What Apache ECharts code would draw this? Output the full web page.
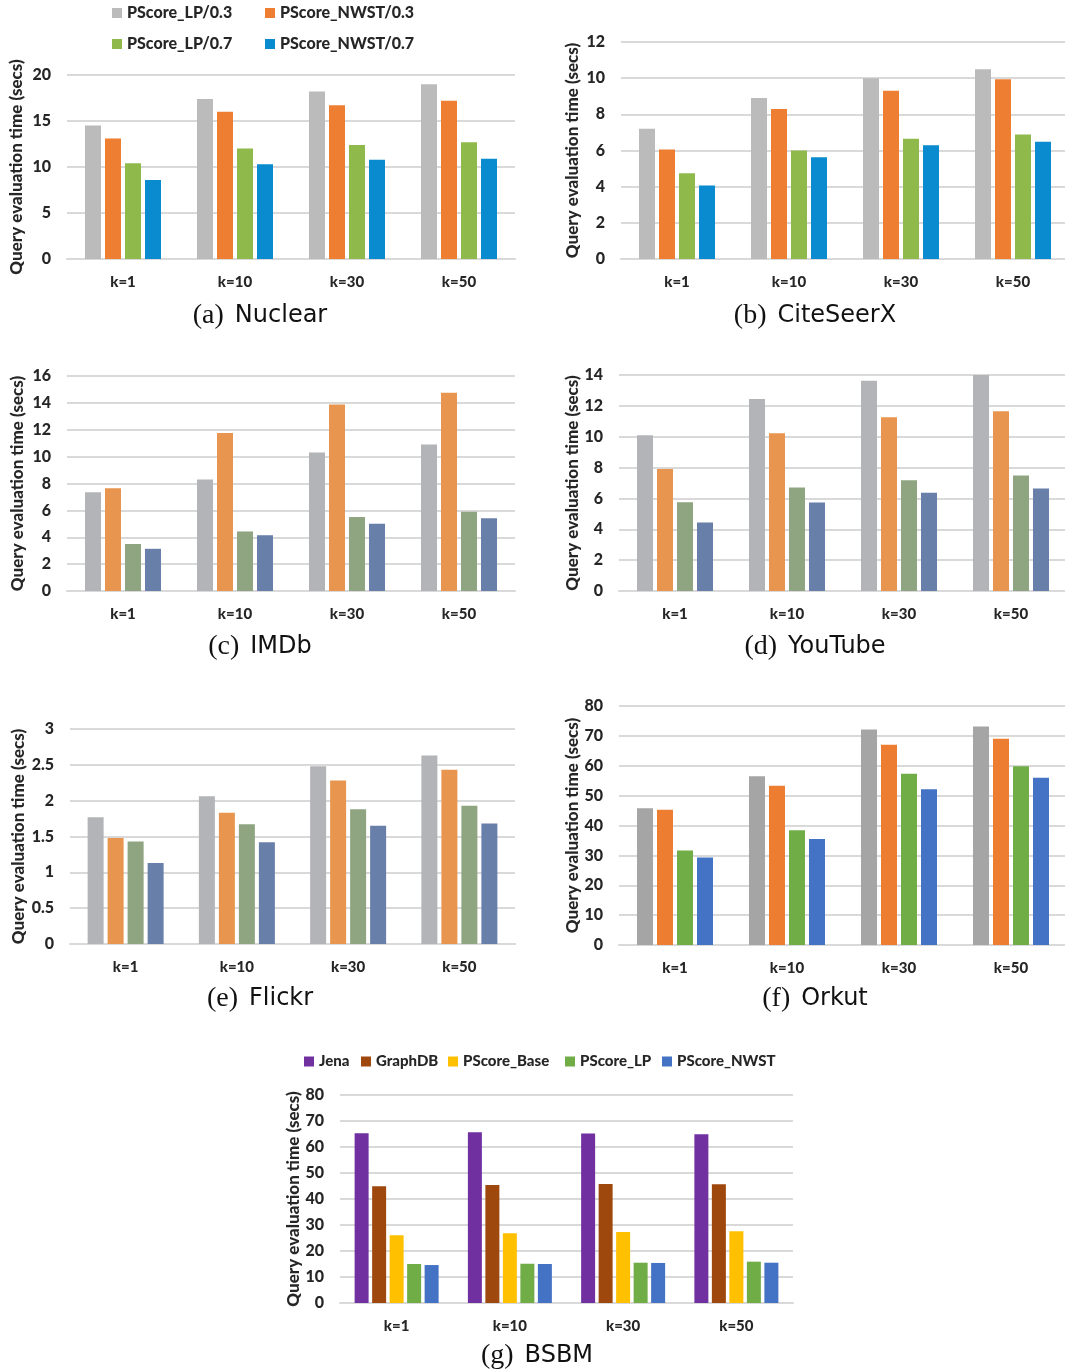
<!DOCTYPE html>
<html><head><meta charset="utf-8">
<script src="https://cdn.jsdelivr.net/npm/echarts@6/dist/echarts.min.js"></script>
<style>html,body{margin:0;padding:0;background:#fff}#c{width:1065px;height:1372px}</style>
</head><body><div id="c"></div>
<script>
const categories = ['k=1', 'k=10', 'k=30', 'k=50'];
const namesPS = ['PScore_LP/0.3', 'PScore_NWST/0.3', 'PScore_LP/0.7', 'PScore_NWST/0.7'];
const namesBSBM = ['Jena', 'GraphDB', 'PScore_Base', 'PScore_LP', 'PScore_NWST'];
const yTitle = 'Query evaluation time (secs)';

// (a) Nuclear
const nuclearLP03 = [14.5, 17.4, 18.2, 19.0];
const nuclearNWST03 = [13.1, 16.0, 16.7, 17.2];
const nuclearLP07 = [10.4, 12.0, 12.4, 12.7];
const nuclearNWST07 = [8.6, 10.3, 10.8, 10.9];
const nuclearTicks = [0, 5, 10, 15, 20];
// (b) CiteSeerX
const citeLP03 = [7.2, 8.9, 10.0, 10.5];
const citeNWST03 = [6.05, 8.3, 9.3, 9.94];
const citeLP07 = [4.74, 6.0, 6.65, 6.88];
const citeNWST07 = [4.07, 5.62, 6.29, 6.49];
const citeTicks = [0, 2, 4, 6, 8, 10, 12];
// (c) IMDb
const imdbLP03 = [7.35, 8.3, 10.3, 10.9];
const imdbNWST03 = [7.65, 11.75, 13.87, 14.76];
const imdbLP07 = [3.5, 4.43, 5.5, 5.9];
const imdbNWST07 = [3.14, 4.15, 5.0, 5.42];
const imdbTicks = [0, 2, 4, 6, 8, 10, 12, 14, 16];
// (d) YouTube
const ytLP03 = [10.1, 12.45, 13.63, 14.0];
const ytNWST03 = [7.9, 10.22, 11.26, 11.65];
const ytLP07 = [5.75, 6.71, 7.18, 7.48];
const ytNWST07 = [4.44, 5.74, 6.36, 6.64];
const ytTicks = [0, 2, 4, 6, 8, 10, 12, 14];
// (e) Flickr
const flickrLP03 = [1.77, 2.06, 2.48, 2.63];
const flickrNWST03 = [1.48, 1.83, 2.28, 2.43];
const flickrLP07 = [1.43, 1.67, 1.88, 1.93];
const flickrNWST07 = [1.13, 1.42, 1.65, 1.68];
const flickrTicks = [0, 0.5, 1, 1.5, 2, 2.5, 3];
// (f) Orkut
const orkutLP03 = [45.8, 56.5, 72.1, 73.1];
const orkutNWST03 = [45.3, 53.3, 67.0, 69.0];
const orkutLP07 = [31.6, 38.4, 57.3, 59.8];
const orkutNWST07 = [29.3, 35.5, 52.1, 56.0];
const orkutTicks = [0, 10, 20, 30, 40, 50, 60, 70, 80];
// (g) BSBM
const bsbmJena = [65.3, 65.7, 65.2, 64.9];
const bsbmGraphDB = [44.9, 45.4, 45.8, 45.7];
const bsbmBase = [26.1, 26.8, 27.3, 27.6];
const bsbmLP = [15.0, 15.1, 15.5, 15.9];
const bsbmNWST = [14.6, 15.0, 15.4, 15.5];
const bsbmTicks = [0, 10, 20, 30, 40, 50, 60, 70, 80];

const colorsA = ['#BBBBBB', '#EE7E32', '#8FBA4B', '#0A8BCF'];
const colorsC = ['#B2B4B7', '#E8964F', '#8FA581', '#687FAA'];
const colorsF = ['#A5A5A5', '#ED7D31', '#70AD47', '#4472C4'];
const colorsG = ['#7030A0', '#9E480E', '#FFC000', '#70AD47', '#4472C4'];

const FONT = 'Lato';
const FW = 900;
const charts = [
  {grid:{left:67, top:75, width:448, height:184}, ticks:nuclearTicks, data:[nuclearLP03,nuclearNWST03,nuclearLP07,nuclearNWST07], names:namesPS, colors:colorsA, nameGap:42, title:['(a)','Nuclear'], tx:260, ty:316, bw:16},
  {grid:{left:621, top:42, width:448, height:217}, ticks:citeTicks, data:[citeLP03,citeNWST03,citeLP07,citeNWST07], names:namesPS, colors:colorsA, nameGap:40, title:['(b)','CiteSeerX'], tx:815, ty:316, bw:16},
  {grid:{left:67, top:376, width:448, height:215}, ticks:imdbTicks, data:[imdbLP03,imdbNWST03,imdbLP07,imdbNWST07], names:namesPS, colors:colorsC, nameGap:41, title:['(c)','IMDb'], tx:260, ty:647, bw:16},
  {grid:{left:619, top:375, width:448, height:216}, ticks:ytTicks, data:[ytLP03,ytNWST03,ytLP07,ytNWST07], names:namesPS, colors:colorsC, nameGap:38, title:['(d)','YouTube'], tx:815, ty:647, bw:16},
  {grid:{left:70, top:729, width:445, height:215}, ticks:flickrTicks, data:[flickrLP03,flickrNWST03,flickrLP07,flickrNWST07], names:namesPS, colors:colorsC, nameGap:43, title:['(e)','Flickr'], tx:260, ty:999, bw:16},
  {grid:{left:619, top:706, width:448, height:239}, ticks:orkutTicks, data:[orkutLP03,orkutNWST03,orkutLP07,orkutNWST07], names:namesPS, colors:colorsF, nameGap:38, title:['(f)','Orkut'], tx:815, ty:999, bw:16},
  {grid:{left:340, top:1095, width:453, height:208}, ticks:bsbmTicks, data:[bsbmJena,bsbmGraphDB,bsbmBase,bsbmLP,bsbmNWST], names:namesBSBM, colors:colorsG, nameGap:37, title:['(g)','BSBM'], tx:537, ty:1356, bw:14}
];

const grids = [], xAxes = [], yAxes = [], series = [], graphics = [];
charts.forEach((c, i) => {
  grids.push(Object.assign({outerBoundsMode:'none', containLabel:false}, c.grid));
  xAxes.push({type:'category', gridIndex:i, data:categories,
    axisLine:{lineStyle:{color:'#D9D9D9', width:2}}, axisTick:{show:false},
    axisLabel:{fontFamily:FONT, fontWeight:FW, fontSize:15, color:'#262626', margin:16}});
  const t = c.ticks;
  yAxes.push({type:'value', gridIndex:i, min:t[0], max:t[t.length-1], interval:t[1]-t[0],
    axisLine:{show:false}, axisTick:{show:false},
    splitLine:{lineStyle:{color:'#D9D9D9', width:2}},
    axisLabel:{fontFamily:FONT, fontWeight:FW, fontSize:16, color:'#262626', margin:16},
    name:yTitle, nameLocation:'middle', nameRotate:90, nameGap:c.nameGap,
    nameTextStyle:{fontFamily:FONT, fontWeight:FW, fontSize:17, color:'#262626'}});
  c.data.forEach((d, j) => {
    series.push({type:'bar', name:c.names[j], xAxisIndex:i, yAxisIndex:i, data:d,
      barWidth:c.bw, barGap:'25%', itemStyle:{color:c.colors[j]}, animation:false});
  });
  graphics.push({type:'text', x:c.tx, y:c.ty, style:{
    text:'{p|' + c.title[0] + '}{n|' + c.title[1] + '}',
    textAlign:'center', textVerticalAlign:'middle',
    rich:{p:{fontFamily:'Liberation Serif', fontSize:28, fill:'#111', padding:[0,11,0,0]},
          n:{fontFamily:'DejaVu Sans', fontSize:24, fill:'#111'}}}});
});

function leg(name, color, left, top, fs) {
  return {show:true, left:left, top:top, icon:'rect', itemWidth:10, itemHeight:10, itemGap:0,
    padding:0, data:[{name:name, itemStyle:{color:color}}], selectedMode:false,
    textStyle:{fontFamily:FONT, fontWeight:FW, fontSize:fs, color:'#262626'}};
}
const legends = [
  leg(namesPS[0], colorsA[0], 112, 5, 16), leg(namesPS[1], colorsA[1], 265, 5, 16),
  leg(namesPS[2], colorsA[2], 112, 36, 16), leg(namesPS[3], colorsA[3], 265, 36, 16),
  leg(namesBSBM[0], colorsG[0], 304, 1054, 15), leg(namesBSBM[1], colorsG[1], 361, 1054, 15),
  leg(namesBSBM[2], colorsG[2], 448, 1054, 15), leg(namesBSBM[3], colorsG[3], 565, 1054, 15),
  leg(namesBSBM[4], colorsG[4], 662, 1054, 15)
];

const chart = echarts.init(document.getElementById('c'), null, {renderer:'canvas'});
chart.setOption({animation:false, backgroundColor:'#fff', grid:grids, xAxis:xAxes, yAxis:yAxes,
  series:series, legend:legends, graphic:graphics});
</script></body></html>
